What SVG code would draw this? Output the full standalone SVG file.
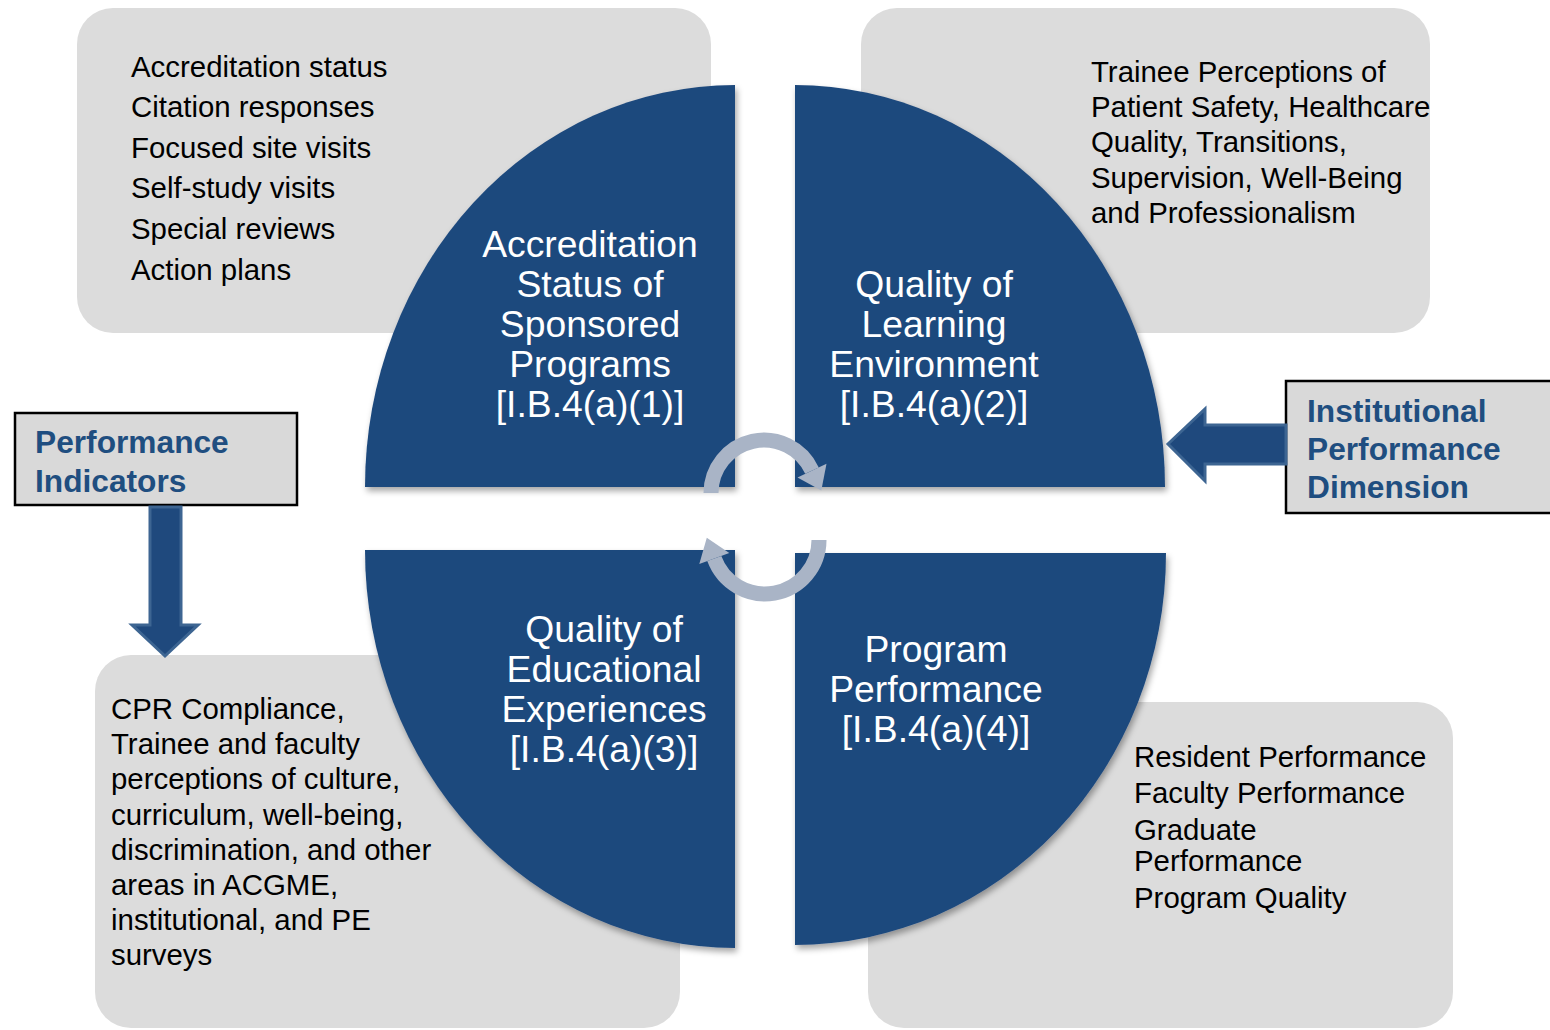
<svg xmlns="http://www.w3.org/2000/svg" width="1550" height="1030" viewBox="0 0 1550 1030">
<defs>
<filter id="sh" x="-10%" y="-10%" width="120%" height="120%">
<feDropShadow dx="2" dy="4" stdDeviation="3" flood-color="#000" flood-opacity="0.35"/>
</filter>
<style>
.box{fill:#dcdcdc}
.q{fill:#1f497d;filter:url(#sh)}
.qt{font-family:"Liberation Sans",Arial,sans-serif;font-size:37.3px;fill:#fff;text-anchor:middle}
.bt{font-family:"Liberation Sans",Arial,sans-serif;font-size:29.4px;fill:#000}
.lbl{fill:#d9d9d9;stroke:#000;stroke-width:2.5}
.lt{font-family:"Liberation Sans",Arial,sans-serif;font-size:31.7px;font-weight:bold;fill:#1f4e80}
.blk{fill:#1f497d;stroke:#3d6592;stroke-width:3}
.cyc{fill:none;stroke:#a9b4c6;stroke-width:15}
.cyh{fill:#a9b4c6}
</style>
</defs>
<rect width="1550" height="1030" fill="#fff"/>

<g id="box-accreditation">
<rect class="box" x="77" y="8" width="634" height="325" rx="36"/>
<text class="bt" x="131" y="77">Accreditation status</text>
<text class="bt" x="131" y="117">Citation responses</text>
<text class="bt" x="131" y="158">Focused site visits</text>
<text class="bt" x="131" y="198">Self-study visits</text>
<text class="bt" x="131" y="239">Special reviews</text>
<text class="bt" x="131" y="280">Action plans</text>
</g>
<g id="box-learning">
<rect class="box" x="861" y="8" width="569" height="325" rx="36"/>
<text class="bt" x="1091" y="82">Trainee Perceptions of</text>
<text class="bt" x="1091" y="117">Patient Safety, Healthcare</text>
<text class="bt" x="1091" y="152">Quality, Transitions,</text>
<text class="bt" x="1091" y="188">Supervision, Well-Being</text>
<text class="bt" x="1091" y="223">and Professionalism</text>
</g>
<g id="box-educational">
<rect class="box" x="95" y="655" width="585" height="373" rx="36"/>
<text class="bt" x="111" y="719">CPR Compliance,</text>
<text class="bt" x="111" y="754">Trainee and faculty</text>
<text class="bt" x="111" y="789">perceptions of culture,</text>
<text class="bt" x="111" y="825">curriculum, well-being,</text>
<text class="bt" x="111" y="860">discrimination, and other</text>
<text class="bt" x="111" y="895">areas in ACGME,</text>
<text class="bt" x="111" y="930">institutional, and PE</text>
<text class="bt" x="111" y="965">surveys</text>
</g>
<g id="box-program">
<rect class="box" x="868" y="702" width="585" height="326" rx="36"/>
<text class="bt" x="1134" y="767">Resident Performance</text>
<text class="bt" x="1134" y="803">Faculty Performance</text>
<text class="bt" x="1134" y="840">Graduate</text>
<text class="bt" x="1134" y="871">Performance</text>
<text class="bt" x="1134" y="908">Program Quality</text>
</g>

<g id="q1">
<path class="q" d="M735,487 H365 A370,402 0 0 1 735,85 Z"/>
<text class="qt" x="590" y="257">Accreditation</text>
<text class="qt" x="590" y="297">Status of</text>
<text class="qt" x="590" y="337">Sponsored</text>
<text class="qt" x="590" y="377">Programs</text>
<text class="qt" x="590" y="417">[I.B.4(a)(1)]</text>
</g>
<g id="q2">
<path class="q" d="M795,487 V85 A370,402 0 0 1 1165,487 Z"/>
<text class="qt" x="934" y="297">Quality of</text>
<text class="qt" x="934" y="337">Learning</text>
<text class="qt" x="934" y="377">Environment</text>
<text class="qt" x="934" y="417">[I.B.4(a)(2)]</text>
</g>
<g id="q3">
<path class="q" d="M735,550 V948 A370,398 0 0 1 365,550 Z"/>
<text class="qt" x="604" y="642">Quality of</text>
<text class="qt" x="604" y="682">Educational</text>
<text class="qt" x="604" y="722">Experiences</text>
<text class="qt" x="604" y="762">[I.B.4(a)(3)]</text>
</g>
<g id="q4">
<path class="q" d="M795,553 H1166 A371,392 0 0 1 795,945 Z"/>
<text class="qt" x="936" y="662">Program</text>
<text class="qt" x="936" y="702">Performance</text>
<text class="qt" x="936" y="742">[I.B.4(a)(4)]</text>
</g>

<g id="label-indicators">
<rect class="lbl" x="15" y="413" width="282" height="92"/>
<text class="lt" x="35" y="453">Performance</text>
<text class="lt" x="35" y="492">Indicators</text>
</g>
<g id="label-dimension">
<rect class="lbl" x="1286" y="381" width="270" height="132"/>
<text class="lt" x="1307" y="422">Institutional</text>
<text class="lt" x="1307" y="460">Performance</text>
<text class="lt" x="1307" y="498">Dimension</text>
</g>

<g id="connectors">
<path class="blk" d="M150,507 H181 V625 H198 L165,656 L132,625 H150 Z"/>
<path class="blk" d="M1286,425 V464 H1205 V481 L1168,444 L1205,409 V425 Z"/>
<path class="cyc" d="M711,493 A53,53 0 0 1 812,470.6"/>
<polygon class="cyh" points="826.5,463.8 797.5,477.4 821.3,490.5"/>
<path class="cyc" d="M819,540 A54,54 0 0 1 714.3,558.5"/>
<polygon class="cyh" points="699.3,564 729.3,553 706.8,537.8"/>
</g>
</svg>
